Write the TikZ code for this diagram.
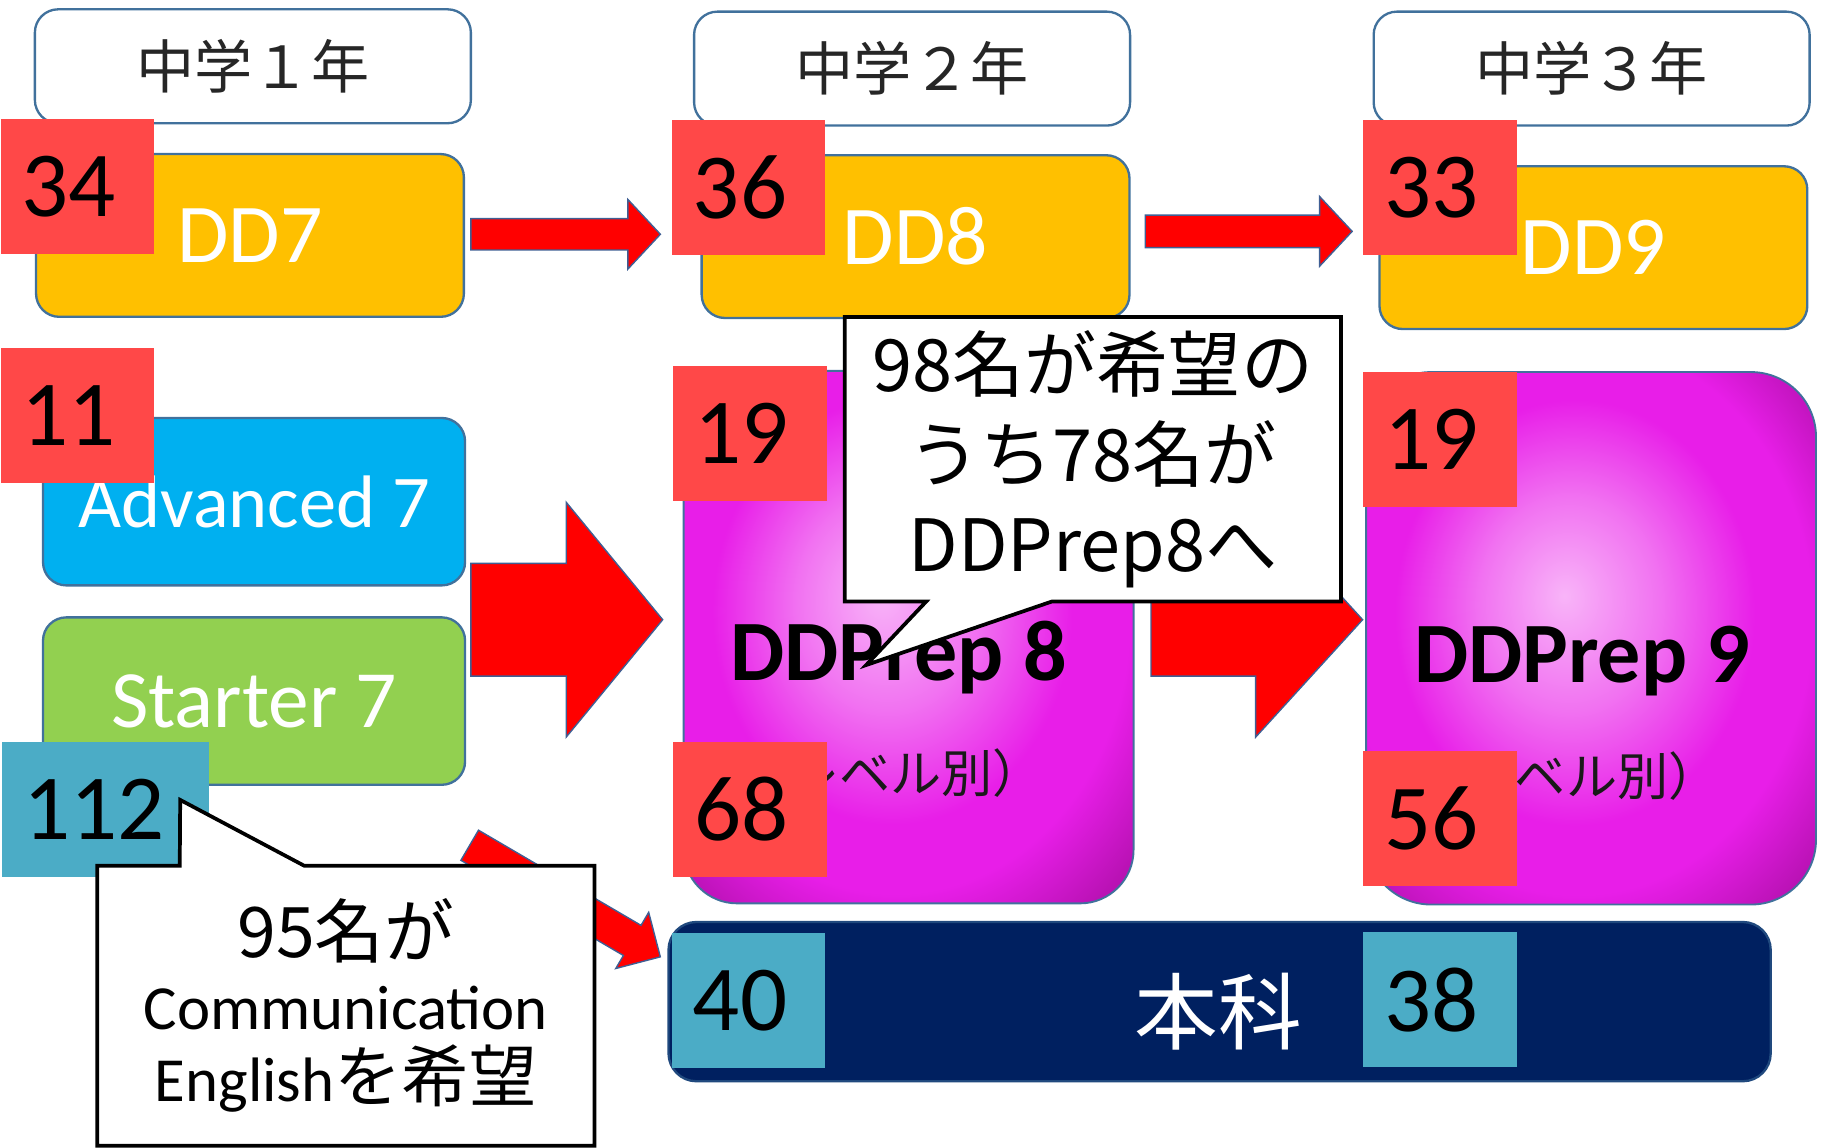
\documentclass[tikz,border=0pt]{standalone}
\usepackage{fontspec}
\newfontfamily\jpfont{Noto Sans CJK JP}
\newfontfamily\carl{Carlito}
\usetikzlibrary{calc}
\definecolor{bord}{HTML}{41719C}
\definecolor{ddorange}{HTML}{FFC000}
\definecolor{advblue}{HTML}{00B0F0}
\definecolor{stagreen}{HTML}{92D050}
\definecolor{navyc}{HTML}{002060}
\definecolor{badgered}{HTML}{FF4848}
\definecolor{badgeblue}{HTML}{4BACC6}
\definecolor{arrowedge}{HTML}{3F5F94}
\definecolor{pc0}{HTML}{F8B4F8}
\definecolor{pc1}{HTML}{F172F1}
\definecolor{pc2}{HTML}{E81EE8}
\definecolor{pc3}{HTML}{AE0FA8}
\pgfdeclareradialshading{magglow}{\pgfpoint{-3bp}{4bp}}{color(0bp)=(pc0); color(10bp)=(pc1); color(20bp)=(pc2); color(26bp)=(pc2); color(36bp)=(pc3); color(50bp)=(pc3)}
\tikzset{
  arrowfill/.style={fill=red, draw=arrowedge, line width=0.6pt, line join=miter},
  pics/blockarrow/.style args={#1/#2/#3/#4}{code={
    \draw[arrowfill] (0,-#2) -- ({#1-#4},-#2) -- ({#1-#4},-#3) -- (#1,0) -- ({#1-#4},#3) -- ({#1-#4},#2) -- (0,#2) -- cycle;
  }},
  yearbox/.style={draw=bord, line width=1pt, fill=white, rounded corners=10pt, minimum width=187.5pt, minimum height=49pt, inner sep=0pt, text=black!85, font=\jpfont\fontsize{25pt}{30pt}\selectfont},
  ddbox/.style={draw=bord, line width=1pt, fill=ddorange, rounded corners=10pt, minimum width=184pt, minimum height=70pt, inner sep=0pt, text=white, font=\carl\fontsize{36pt}{40pt}\selectfont},
  lvlbox/.style={draw=bord, line width=1pt, rounded corners=10pt, minimum width=181.5pt, minimum height=72pt, inner sep=0pt, text=white},
  prepbox/.style={draw=bord, line width=0.8pt, shade, shading=magglow, minimum width=193.5pt, minimum height=229pt, inner sep=0pt},
  preptitle/.style={anchor=base, font=\carl\bfseries\fontsize{37pt}{40pt}\selectfont, text=black},
  prepsub/.style={anchor=base, font=\jpfont\fontsize{22pt}{26pt}\selectfont, text=black!90},
  badge/.style={minimum height=58pt, text width=48pt, inner xsep=9pt, inner ysep=0pt, align=left, font=\carl\fontsize{40pt}{44pt}\selectfont, text=black},
  redbadge/.style={badge, fill=badgered},
  bluebadge/.style={badge, fill=badgeblue},
  callout/.style={draw=black, line width=1.6pt, fill=white, line join=miter},
}
\begin{document}
\begin{tikzpicture}[x=0.5pt,y=-0.5pt]
\useasboundingbox (0,0) rectangle (1568,987);
% year headers
\node[yearbox] (y1) at (217.5,57) {中学１年};
\node[yearbox] (y2) at (784.5,59) {中学２年};
\node[yearbox] (y3) at (1369,59) {中学３年};
% DD boxes
\node[ddbox] (dd7) at (215,202.5) {DD7};
\node[ddbox] (dd8) at (787.5,203.5) {DD8};
\node[ddbox] (dd9) at (1370.5,213) {DD9};
% level boxes
\node[lvlbox, fill=advblue, font=\carl\fontsize{32pt}{38pt}\selectfont] (adv) at (218.5,431.5) {Advanced 7};
\node[lvlbox, fill=stagreen, font=\carl\fontsize{35pt}{40pt}\selectfont] (sta) at (218.5,603) {Starter 7};
% DDPrep boxes
\node[prepbox, rounded corners=23pt] (dp8) at (781.5,548) {};
\node[preptitle] (dp8t) at (773,585) {DDPrep 8};
\node[prepsub] (dp8s) at (766,682) {（レベル別）};
\node[prepbox, rounded corners=28pt] (dp9) at (1368.5,549) {};
\node[preptitle] (dp9t) at (1361,587) {DDPrep 9};
\node[prepsub] (dp9s) at (1347,684) {（レベル別）};
% honka
\node[draw=bord!50!navyc, line width=1pt, fill=navyc, rounded corners=12pt, minimum width=474pt, minimum height=68.5pt, inner sep=0pt] (honka) at (1049,861.5) {};
\node[font=\jpfont\fontsize{36pt}{40pt}\selectfont, text=white] (honkatxt) at (1048,870) {本科};
% arrows
\pic at (405,201.5) {blockarrow=163/13.5/30/28};
\pic at (985,199) {blockarrow=178/14/30/28};
\pic at (405,533) {blockarrow=165/48.5/101/83};
\pic at (990,533) {blockarrow=182/48.5/101/92};
\pic[rotate=-30.35] at (404,727) {blockarrow=190/15/28/28};
% badges
\node[redbadge] (b34) at (66.5,160.5) {34};
\node[redbadge] (b36) at (644,161) {36};
\node[redbadge] (b33) at (1238.5,161) {33};
\node[redbadge] (b11) at (66.5,357) {11};
\node[redbadge] (b19a) at (645,373) {19};
\node[redbadge] (b19b) at (1238.5,378) {19};
\node[redbadge] (b68) at (645,696) {68};
\node[redbadge] (b56) at (1238.5,704) {56};
\node[bluebadge, text width=71pt] (b112) at (91,696) {112};
\node[bluebadge] (b40) at (644,860.5) {40};
\node[bluebadge] (b38) at (1238.5,860) {38};
% callout 1
\node[minimum width=213pt, minimum height=122pt, inner sep=0pt] (c1) at (940,395) {};
\coordinate (c1tip) at (745,572);
\draw[callout] (c1.north west) -- (c1.north east) -- (c1.south east) -- ([xshift=89pt]c1.south west) -- (c1tip) -- ([xshift=35pt]c1.south west) -- (c1.south west) -- cycle;
\node[align=center, font=\jpfont\fontsize{31pt}{38.5pt}\selectfont] (c1txt) at (c1.center) {98名が希望の\\うち78名が\\DDPrep8へ};
% callout 2
\node[minimum width=213.5pt, minimum height=120pt, inner sep=0pt] (c2) at (297.5,865) {};
\coordinate (c2tip) at (155,688);
\draw[callout] (c2.south west) -- (c2.north west) -- ([xshift=35.5pt]c2.north west) -- (c2tip) -- ([xshift=89pt]c2.north west) -- (c2.north east) -- (c2.south east) -- cycle;
\node[align=center, font=\jpfont\fontsize{30pt}{31pt}\selectfont] (c2txt) at (c2.center) {95名が\\{\carl\fontsize{27pt}{31pt}\selectfont Communication}\\{\carl\fontsize{27pt}{31pt}\selectfont English}{\fontsize{29pt}{31pt}\selectfont を希望}};
\end{tikzpicture}
\end{document}
